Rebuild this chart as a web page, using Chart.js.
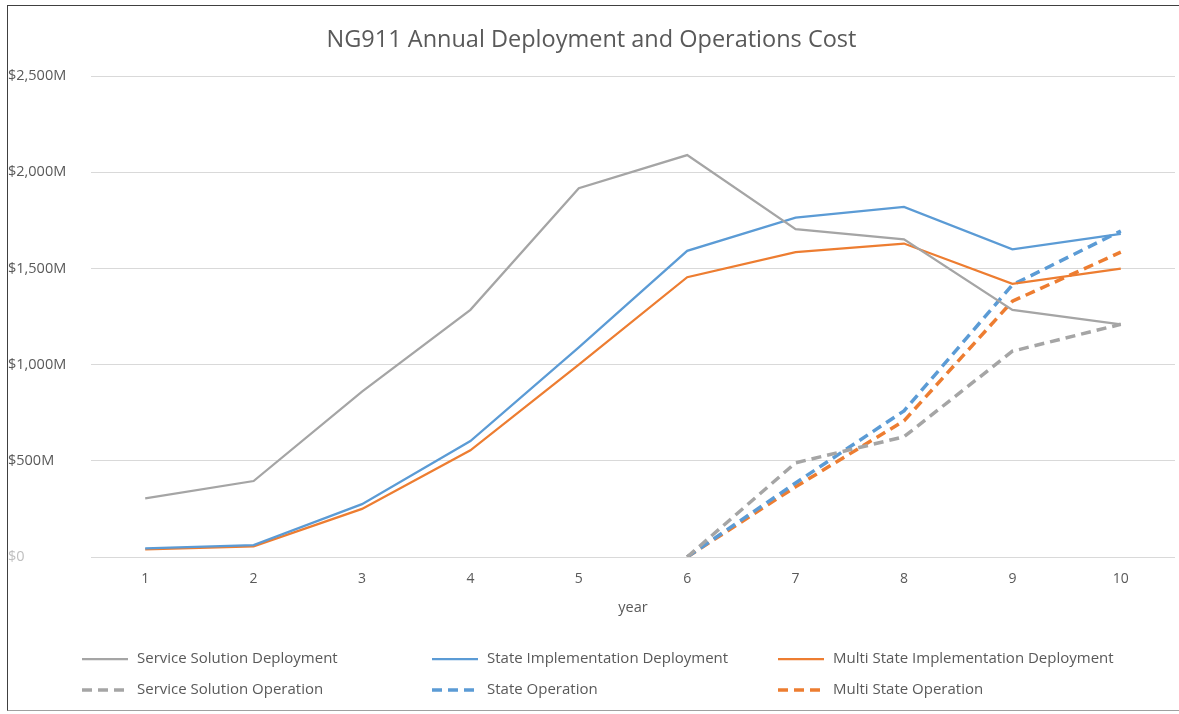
<!DOCTYPE html>
<html>
<head>
<meta charset="utf-8">
<script src="https://cdn.jsdelivr.net/npm/chart.js@4"></script>
<style>
  html, body { margin: 0; padding: 0; background: #fff; }
  #wrap { position: relative; width: 1179px; height: 714px; }
  #frame { position: absolute; left: 7px; top: 5px; width: 1172px; height: 706px;
           border-left: 1px solid #404040; border-top: 1px solid #404040; border-bottom: 1px solid #a0a0a0;
           box-sizing: border-box; pointer-events: none; }
  canvas { position: absolute; left: 0; top: 0; }
</style>
</head>
<body>
<div id="wrap">
  <canvas id="chart" width="1179" height="714"></canvas>
  <div id="frame"></div>
</div>
<script>
// DATA ($M per year)
const years = ["1", "2", "3", "4", "5", "6", "7", "8", "9", "10"];
const serviceDeployment = [305, 395, 860, 1285, 1918, 2090, 1705, 1652, 1285, 1210];
const stateDeployment = [45, 62, 275, 603, 1090, 1592, 1765, 1820, 1600, 1680];
const multiDeployment = [40, 55, 250, 555, 1000, 1455, 1585, 1630, 1420, 1500];
const serviceOperation = [null, null, null, null, null, 0, 490, 625, 1070, 1210];
const stateOperation = [null, null, null, null, null, 0, 385, 760, 1415, 1695];
const multiOperation = [null, null, null, null, null, 0, 365, 708, 1330, 1585];
const yTicks = [0, 500, 1000, 1500, 2000, 2500];

const GRAY = "#a5a5a5";
const BLUE = "#5b9bd5";
const ORANGE = "#ed7d31";
const TEXT = "#595959";
const FONT = "'Open Sans', 'Noto Sans', sans-serif";

function solid(label, data, color) {
  return { label: label, data: data, borderColor: color, backgroundColor: color,
           borderWidth: 2.25, pointRadius: 0, tension: 0, spanGaps: false };
}
function dashed(label, data, color) {
  return { label: label, data: data, borderColor: color, backgroundColor: color,
           borderWidth: 3.5, borderDash: [10, 6], pointRadius: 0, tension: 0, spanGaps: false };
}

// legend laid out in 3 columns x 2 rows, like the original
const legendGrid = {
  id: "legendGrid",
  afterDraw(chart) {
    const ctx = chart.ctx;
    const colX = [82, 432, 778];
    const rowY = [659, 690];
    ctx.save();
    ctx.font = "15px " + FONT;
    ctx.textBaseline = "middle";
    ctx.fillStyle = TEXT;
    chart.data.datasets.forEach((ds, i) => {
      const x = colX[i % 3];
      const y = rowY[Math.floor(i / 3)];
      ctx.beginPath();
      ctx.strokeStyle = ds.borderColor;
      ctx.lineWidth = ds.borderDash ? 3.5 : 2.25;
      ctx.setLineDash(ds.borderDash ? [10, 6] : []);
      ctx.moveTo(x, y);
      ctx.lineTo(x + 46, y);
      ctx.stroke();
      ctx.setLineDash([]);
      ctx.fillText(ds.label, x + 55, y);
    });
    ctx.restore();
  },
};

new Chart(document.getElementById("chart"), {
  type: "line",
  data: {
    labels: years,
    datasets: [
      solid("Service Solution Deployment", serviceDeployment, GRAY),
      solid("State Implementation Deployment", stateDeployment, BLUE),
      solid("Multi State Implementation Deployment", multiDeployment, ORANGE),
      dashed("Service Solution Operation", serviceOperation, GRAY),
      dashed("State Operation", stateOperation, BLUE),
      dashed("Multi State Operation", multiOperation, ORANGE),
    ],
  },
  plugins: [legendGrid],
  options: {
    responsive: false,
    animation: false,
    layout: { padding: { left: 8, right: 4, top: 1, bottom: 0 } },
    plugins: {
      legend: { display: false },
      tooltip: { enabled: false },
      title: {
        display: true,
        text: "NG911 Annual Deployment and Operations Cost",
        color: TEXT,
        font: { family: FONT, size: 23.5, weight: "normal" },
        padding: { top: 25, bottom: 22 },
      },
    },
    scales: {
      x: {
        offset: true,
        grid: { display: false, drawTicks: false },
        border: { display: false },
        ticks: { color: TEXT, font: { family: FONT, size: 14 }, padding: 14 },
        title: {
          display: true,
          text: "year",
          color: TEXT,
          font: { family: FONT, size: 14.5 },
          padding: { top: 0, bottom: 97 },
        },
        afterFit(scale) { scale.height = 157; },
      },
      y: {
        min: 0,
        max: 2500,
        afterBuildTicks(scale) { scale.ticks = yTicks.map((v) => ({ value: v })); },
        grid: { color: "#d9d9d9", lineWidth: 1, drawTicks: false },
        border: { display: false },
        ticks: {
          crossAlign: "far",
          padding: 0,
          font: { family: FONT, size: 14.5 },
          color: (c) => (c.tick && c.tick.value === 0 ? "#bfbfbf" : TEXT),
          callback: (v) => (v === 0 ? "$0" : "$" + v.toLocaleString("en-US") + "M"),
        },
        afterFit(scale) { scale.width = 83; },
      },
    },
  },
});
</script>
</body>
</html>
